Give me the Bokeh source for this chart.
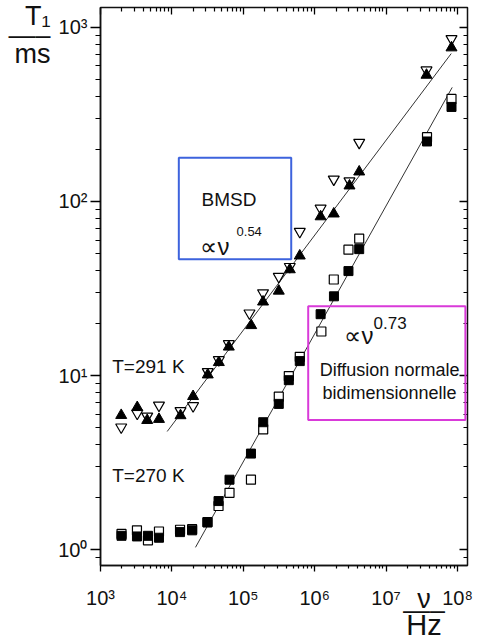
from bokeh.plotting import figure
from bokeh.models import (Range1d, LogAxis, FixedTicker, CustomJSTickFormatter,
                          Label, BoxAnnotation)
from bokeh.embed import file_html
from bokeh.resources import INLINE

FONT = "Liberation Sans"

# ---- data ----
# T = 291 K
nu_291 = [1950, 3270, 4510, 6590, 13200, 19800, 31800, 45400, 62700, 129000,
          189000, 314000, 448000, 618000, 1.21e6, 1.85e6, 3.07e6, 4.20e6, 3.68e7, 8.24e7]
t1_291_filled = [5.91, 6.56, 5.53, 5.61, 5.89, 7.59, 10.1, 11.9, 14.6, 19.4,
                 26.5, 30.6, 40.6, 48.7, 81.8, 84.9, 123, 148, 532, 764]
nu_291_open = [1950, 3270, 4510, 6590, 13200, 19800, 31800, 45400, 62700, 122000,
               189000, 314000, 448000, 618000, 1.21e6, 1.85e6, 3.07e6, 4.20e6, 3.68e7, 8.24e7]
t1_291_open = [5.05, 6.06, 5.83, 6.74, 6.27, 6.69, 10.5, 12.3, 15.2, 22.8,
               29.8, 37.0, 42.2, 67.1, 91.2, 134, 131, 218, 568, 859]

# T = 270 K
nu_270 = [1970, 3240, 4620, 6590, 13000, 19200, 31500, 45000, 64100, 128000,
          190000, 314000, 434000, 618000, 1.21e6, 1.86e6, 2.97e6, 4.20e6, 3.74e7, 8.24e7]
t1_270_filled = [1.20, 1.19, 1.20, 1.17, 1.26, 1.29, 1.43, 1.90, 2.52, 3.56,
                 5.39, 6.87, 9.40, 12.1, 22.5, 28.5, 39.8, 53.2, 221, 349]
nu_270_open = [1970, 3240, 4620, 6590, 13000, 19200, 31500, 45000, 64100, 128000,
               190000, 314000, 434000, 618000, 1.24e6, 1.85e6, 2.97e6, 4.20e6, 3.74e7, 8.24e7]
t1_270_open = [1.23, 1.29, 1.13, 1.27, 1.30, 1.31, 1.44, 1.78, 2.12, 2.52,
               4.91, 7.56, 9.93, 12.8, 17.9, 35.6, 52.8, 61.1, 234, 388]

# power-law fits
fit_291_nu = [8590, 8.17e7]
fit_291_t1 = [4.77, 707]
fit_270_nu = [21400, 8.43e7]
fit_270_t1 = [1.03, 452]

x_major = [1e3, 1e4, 1e5, 1e6, 1e7, 1e8]
y_major = [1, 10, 100, 1000]
x_minor = [m * 10 ** e for e in range(3, 9) for m in range(2, 10)]
y_minor = [m * 10 ** e for e in range(-1, 4) for m in range(2, 10)]

# positions of the two fraction-style axis titles
ytitle_pos = [1210, 908, 700]      # T1 / bar / ms
xtitle_pos = 3.4e7                 # nu / bar / Hz

p = figure(width=477, height=643, x_axis_type="log", y_axis_type="log",
           x_range=Range1d(1e3, 10 ** 8.14), y_range=Range1d(10 ** -0.0914, 10 ** 3.114),
           output_backend="svg", toolbar_location=None,
           min_border_left=100, min_border_right=10, min_border_top=7, min_border_bottom=75)
p.grid.visible = False
p.outline_line_color = "#111111"
p.outline_line_width = 1.5
p.background_fill_color = "white"

fmt_code = """
const sup = {"0":"\\u2070","1":"\\u00b9","2":"\\u00b2","3":"\\u00b3","4":"\\u2074",
             "5":"\\u2075","6":"\\u2076","7":"\\u2077","8":"\\u2078","9":"\\u2079","-":"\\u207b"};
const e = Math.round(Math.log10(tick));
return "10" + String(e).split("").map(c => sup[c]).join("");
"""

xa = p.xaxis[0]
xa.ticker = FixedTicker(ticks=x_major, minor_ticks=x_minor)
xa.formatter = CustomJSTickFormatter(code=fmt_code)
ya = p.yaxis[0]
ya.ticker = FixedTicker(ticks=y_major, minor_ticks=y_minor)
ya.formatter = CustomJSTickFormatter(code=fmt_code)

for ax, tout, min_out in [(xa, 6, 3), (ya, 10, 5)]:
    ax.major_tick_in = 0
    ax.major_tick_out = tout
    ax.minor_tick_in = 0
    ax.minor_tick_out = min_out
    ax.axis_line_width = 1.5
    ax.axis_line_color = "#111111"
    ax.major_tick_line_width = 1.3
    ax.minor_tick_line_width = 1.2
    ax.major_label_text_font = FONT
    ax.major_label_text_font_size = "20px"
    ax.major_label_text_color = "#111111"

xa.major_label_standoff = 15
ya.major_label_standoff = 3

blank = "return ' ';"
top = LogAxis(ticker=FixedTicker(ticks=x_major, minor_ticks=x_minor),
              formatter=CustomJSTickFormatter(code=blank),
              major_label_text_font_size="1px", major_label_text_alpha=0,
              major_tick_in=7, major_tick_out=0,
              minor_tick_in=4, minor_tick_out=0, axis_line_color=None,
              major_label_standoff=0, major_tick_line_width=1.3, minor_tick_line_width=1.2)
right = LogAxis(ticker=FixedTicker(ticks=y_major, minor_ticks=y_minor),
                formatter=CustomJSTickFormatter(code=blank),
                major_label_text_font_size="1px", major_label_text_alpha=0,
                major_tick_in=8, major_tick_out=0,
                minor_tick_in=4, minor_tick_out=0, axis_line_color=None,
                major_label_standoff=0, major_tick_line_width=1.3, minor_tick_line_width=1.2)
p.add_layout(top, "above")
p.add_layout(right, "right")


def title_axis(kind, ticks, code, size, standoff):
    ax = LogAxis(ticker=FixedTicker(ticks=ticks, minor_ticks=[]),
                 formatter=CustomJSTickFormatter(code=code),
                 major_label_text_font=FONT, major_label_text_font_size=size,
                 major_label_text_color="#111111",
                 major_tick_in=0, major_tick_out=0, minor_tick_in=0, minor_tick_out=0,
                 axis_line_color=None, major_label_standoff=standoff)
    p.add_layout(ax, kind)
    return ax


# y title: T1 over ms
title_axis("left", ytitle_pos,
           "return tick > 1000 ? 'T\\u2081' : (tick > 800 ? '\\u2014\\u2013' : 'ms');",
           "27px", 5)
# x title: nu over Hz (one row per axis)
title_axis("below", [xtitle_pos], "return '\\u03bd';", "27px", -28)
title_axis("below", [xtitle_pos], "return '\\u2014\\u2013';", "27px", -22)
title_axis("below", [xtitle_pos], "return 'Hz';", "29px", -19)

# fit lines
p.line(fit_291_nu, fit_291_t1, line_color="#333333", line_width=1)
p.line(fit_270_nu, fit_270_t1, line_color="#333333", line_width=1)

# markers
p.scatter(nu_291_open, t1_291_open, marker="inverted_triangle", size=11,
          fill_color="white", line_color="black", line_width=1.2)
p.scatter(nu_291, t1_291_filled, marker="triangle", size=11,
          fill_color="black", line_color="black", line_width=1)
p.scatter(nu_270_open, t1_270_open, marker="square", size=9,
          fill_color="white", line_color="black", line_width=1.2)
p.scatter(nu_270, t1_270_filled, marker="square", size=9,
          fill_color="black", line_color="black", line_width=1)

# boxes
p.add_layout(BoxAnnotation(left=12500, right=469000, bottom=46.6, top=178,
                           fill_alpha=0, line_color="#3d63dd", line_alpha=1, line_width=2))
p.add_layout(BoxAnnotation(left=811000, right=1.29e8, bottom=5.55, top=25.0,
                           fill_alpha=0, line_color="#d93ad9", line_alpha=1, line_width=2))


def lab(x, y, text, size, align="left", baseline="middle"):
    p.add_layout(Label(x=x, y=y, text=text, text_font=FONT, text_font_size=size,
                       text_align=align, text_baseline=baseline, text_color="#111111"))


lab(26000, 102.6, "BMSD", "19px")
lab(25100, 55.3, "\u221d\u03bd", "24px")
lab(80400, 67.4, "0.54", "13px")

lab(2.61e6, 16.9, "\u221d\u03bd", "24px")
lab(6.67e6, 20.1, "0.73", "17px")
lab(1.117e7, 10.7, "Diffusion normale", "18px", align="center")
lab(1.117e7, 7.89, "bidimensionnelle", "18px", align="center")

lab(1460, 11.3, "T=291 K", "19px")
lab(1460, 2.68, "T=270 K", "19px")

open("out.html", "w").write(file_html(p, INLINE))
